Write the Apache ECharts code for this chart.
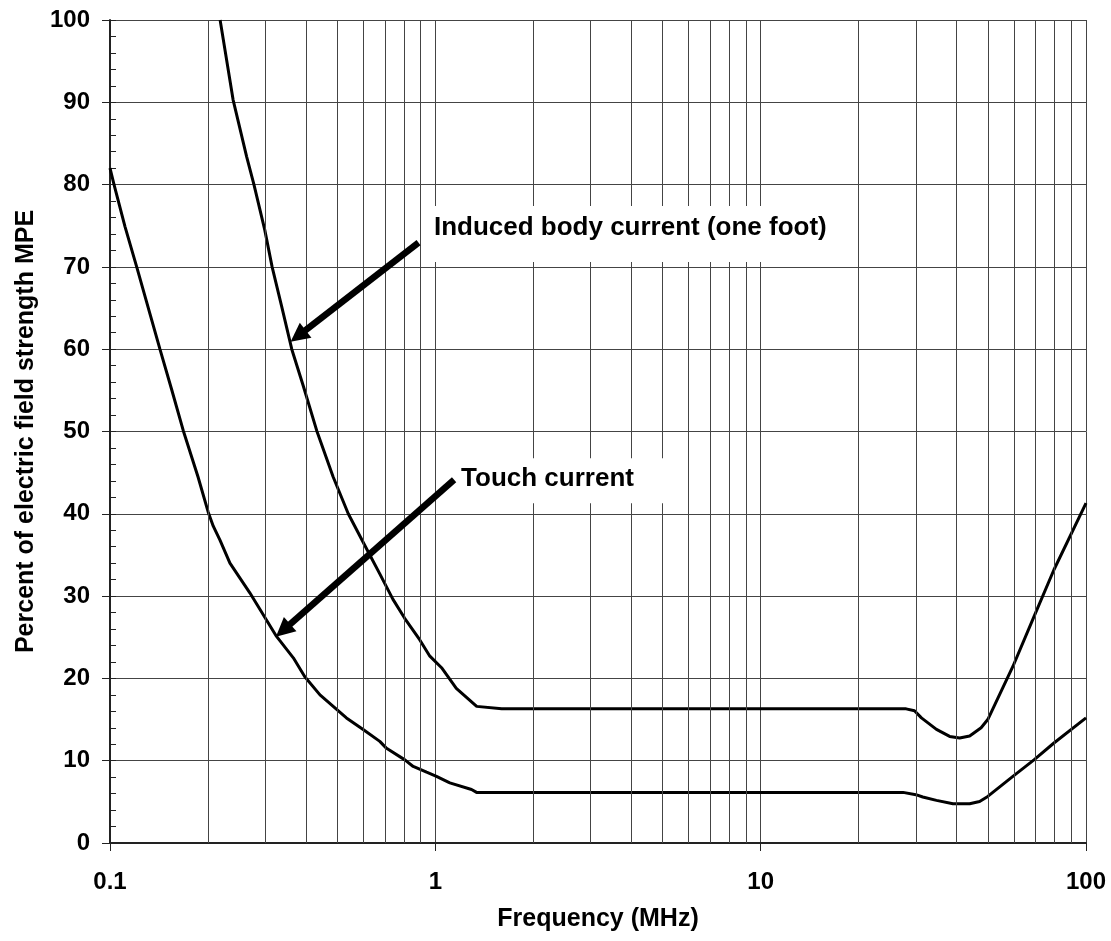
<!DOCTYPE html>
<html><head><meta charset="utf-8">
<script src="https://cdn.jsdelivr.net/npm/echarts@6/dist/echarts.min.js"></script>
<style>html,body{margin:0;padding:0;background:#fff}#c{width:1111px;height:941px}</style>
</head><body><div id="c"></div>
<script>
// ---- data ----
const inducedFreq = [0.218,0.239,0.263,0.277,0.299,0.315,0.337,0.362,0.393,0.432,0.485,0.540,0.629,0.675,0.741,0.805,0.895,0.962,1.045,1.16,1.34,1.60,28.0,29.7,31.2,34.7,38.1,40.9,43.9,47.6,49.9,59.6,69.2,79.7,100];
const inducedPct  = [100,90.3,83.4,80,74.5,70,65.2,60,55.5,50.1,44.5,40,35.0,32.7,29.6,27.3,24.7,22.7,21.3,18.8,16.6,16.3,16.3,16.07,15.2,13.8,12.95,12.75,13.0,14.0,15.0,21.45,27.5,33.2,41.3];
const touchFreq = [0.1,0.1029,0.1112,0.1208,0.1327,0.1424,0.1547,0.168,0.1864,0.2004,0.2077,0.2178,0.2337,0.269,0.325,0.366,0.397,0.442,0.533,0.600,0.675,0.708,0.806,0.855,0.94,1.008,1.108,1.292,1.339,27.4,30,31.5,34.7,39.0,43.9,47.1,49.9,59.6,69.2,79.7,100];
const touchPct  = [82.0,80,74.9,70,64.3,60,55.1,50.1,44.5,40.2,38.5,36.8,34.0,30.4,25.1,22.5,20.2,18.0,15.2,13.8,12.35,11.5,10.1,9.3,8.6,8.1,7.3,6.5,6.15,6.15,5.87,5.59,5.18,4.77,4.77,5.05,5.66,8.1,10.1,12.15,15.2];

const xTickValues = [0.1, 1, 10, 100];
const xTickLabels = ['0.1', '1', '10', '100'];
const minorGridFreqs = [0.2,0.3,0.4,0.5,0.6,0.7,0.8,0.9,2,3,4,5,6,7,8,9,20,30,40,50,60,70,80,90];

const xAxisTitle = 'Frequency (MHz)';
const yAxisTitle = 'Percent of electric field strength MPE';

const annotationTexts  = ['Induced body current (one foot)', 'Touch current'];
const annotationAnchor = [[0.99, 74.74], [1.2, 44.31]];     // data coords where text starts
const arrowTail = [[0.888, 72.95], [1.142, 44.13]];
const arrowTip  = [[0.359, 60.9], [0.3236, 25.06]];

// ---- chart ----
const FONT = '"Liberation Sans", Arial, sans-serif';
const zip = (a, b) => a.map((v, i) => [v, b[i]]);
const chart = echarts.init(document.getElementById('c'), null, {renderer: 'canvas'});

function xLabel(v) {
  let best = 0;
  xTickValues.forEach((t, i) => { if (Math.abs(Math.log10(t) - Math.log10(v)) < Math.abs(Math.log10(xTickValues[best]) - Math.log10(v))) best = i; });
  return xTickLabels[best];
}

const GRID = '#444';
const option = {
  animation: false,
  backgroundColor: '#fff',
  grid: {left: 110, right: 25, top: 20, bottom: 98, containLabel: false},
  xAxis: {
    type: 'log', logBase: 10, min: 0.1, max: 100,
    name: xAxisTitle, nameLocation: 'middle', nameGap: 64,
    nameTextStyle: {fontFamily: FONT, fontWeight: 'bold', fontSize: 25, color: '#000'},
    axisLine: {show: true, onZero: false, lineStyle: {color: '#222', width: 2}},
    axisTick: {show: true, inside: false, length: 8, lineStyle: {color: '#222', width: 1}},
    axisLabel: {margin: 27, fontFamily: FONT, fontWeight: 'bold', fontSize: 24, color: '#000', formatter: xLabel},
    splitLine: {show: true, lineStyle: {color: GRID, width: 1}}
  },
  yAxis: [{
    type: 'value', min: 0, max: 100, interval: 10, position: 'left',
    name: yAxisTitle, nameLocation: 'middle', nameGap: 69, nameRotate: 90,
    nameTextStyle: {fontFamily: FONT, fontWeight: 'bold', fontSize: 25, color: '#000'},
    axisLine: {show: true, lineStyle: {color: '#222', width: 2}},
    axisTick: {show: true, inside: false, length: 8, lineStyle: {color: '#222', width: 1}},
    axisLabel: {margin: 20, fontFamily: FONT, fontWeight: 'bold', fontSize: 24, color: '#000'},
    splitLine: {show: true, lineStyle: {color: GRID, width: 1}}
  }, {
    type: 'value', min: 0, max: 100, interval: 2, position: 'left', offset: 0,
    axisLine: {show: false}, axisLabel: {show: false}, splitLine: {show: false},
    axisTick: {show: true, inside: true, length: 6, lineStyle: {color: '#222', width: 1}}
  }],
  series: [
    {
      type: 'line', name: 'minor grid', z: 1, silent: true, symbol: 'none',
      data: [[0.1, 0], [100, 0]], lineStyle: {opacity: 0},
      markLine: {
        silent: true, symbol: ['none', 'none'], animation: false,
        label: {show: false},
        lineStyle: {color: GRID, width: 1, type: 'solid'},
        emphasis: {disabled: true},
        data: minorGridFreqs.map(f => ({xAxis: f}))
      }
    },
    {
      type: 'line', name: 'Induced body current (one foot)', z: 3, symbol: 'none', smooth: false,
      data: zip(inducedFreq, inducedPct), lineStyle: {color: '#000', width: 3}, clip: true
    },
    {
      type: 'line', name: 'Touch current', z: 3, symbol: 'none', smooth: false,
      data: zip(touchFreq, touchPct), lineStyle: {color: '#000', width: 3}, clip: true
    }
  ]
};
chart.setOption(option);

// ---- annotations (anchored to data coordinates) ----
const finder = {xAxisIndex: 0, yAxisIndex: 0};
const px = p => chart.convertToPixel(finder, p);
const boxes = [
  {dx: -6, dy: -22, w: 407, h: 56},
  {dx: -12, dy: -20, w: 222, h: 45}
];
const graphics = [];
annotationTexts.forEach((t, i) => {
  const a = px(annotationAnchor[i]);
  const b = boxes[i];
  graphics.push({type: 'rect', z: 10, silent: true,
    shape: {x: a[0] + b.dx, y: a[1] + b.dy, width: b.w, height: b.h},
    style: {fill: '#fff'}});
  graphics.push({type: 'text', z: 11, silent: true, x: a[0], y: a[1],
    style: {text: t, font: 'bold 26px ' + FONT, fill: '#000', align: 'left', verticalAlign: 'middle'}});
  const T = px(arrowTail[i]), P = px(arrowTip[i]);
  const dx = P[0] - T[0], dy = P[1] - T[1], L = Math.hypot(dx, dy);
  const ux = dx / L, uy = dy / L, nx = -uy, ny = ux;
  const HL = 19, HW = 9.5;
  const B = [P[0] - ux * HL, P[1] - uy * HL];
  graphics.push({type: 'line', z: 12, silent: true,
    shape: {x1: T[0], y1: T[1], x2: B[0] + ux * 2, y2: B[1] + uy * 2},
    style: {stroke: '#000', lineWidth: 6.5, lineCap: 'butt'}});
  graphics.push({type: 'polygon', z: 12, silent: true,
    shape: {points: [P, [B[0] + nx * HW, B[1] + ny * HW], [B[0] - nx * HW, B[1] - ny * HW]]},
    style: {fill: '#000'}});
});
chart.setOption({graphic: {elements: graphics}});
</script>
</body></html>
